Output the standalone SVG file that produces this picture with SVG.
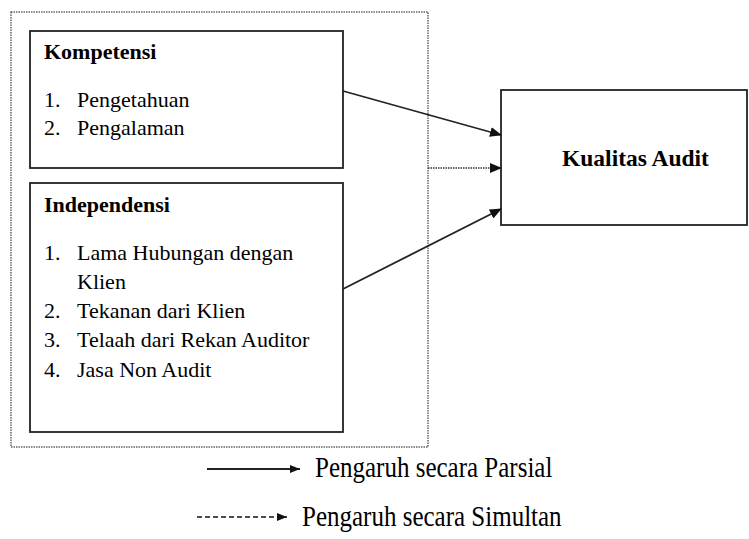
<svg xmlns="http://www.w3.org/2000/svg" width="749" height="539" viewBox="0 0 749 539">
<defs>
<marker id="ah" markerWidth="12" markerHeight="10" refX="11" refY="5" orient="auto" markerUnits="userSpaceOnUse">
<path d="M0,0 L12,5 L0,10 Z" fill="#111"/>
</marker>
<marker id="ahs" markerWidth="10" markerHeight="8" refX="10" refY="4" orient="auto" markerUnits="userSpaceOnUse">
<path d="M0,0 L10,4 L0,8 Z" fill="#111"/>
</marker>
</defs>
<style>
.box{fill:#fff;stroke:#222;stroke-width:1.8}
.outer{fill:none;stroke:#666;stroke-width:1.5;stroke-dasharray:1.5 1}
.solid{stroke:#222;stroke-width:1.8;fill:none}
.dot{stroke:#333;stroke-width:1.5;fill:none;stroke-dasharray:1.5 1}
.dash{stroke:#111;stroke-width:1.3;fill:none;stroke-dasharray:5 3}
</style>
<rect width="749" height="539" fill="#fff"/>
<g id="group-outer">
<rect class="outer" x="11" y="12" width="417" height="435"/>
</g>
<g id="node-kompetensi">
<rect class="box" x="30" y="31" width="313" height="137"/>
<text x="44" y="59" font-family="Liberation Serif, serif" font-size="22" font-weight="bold">Kompetensi</text>
<text x="44" y="107" font-family="Liberation Serif, serif" font-size="22">1.</text>
<text x="77" y="107" font-family="Liberation Serif, serif" font-size="22">Pengetahuan</text>
<text x="44" y="135" font-family="Liberation Serif, serif" font-size="22">2.</text>
<text x="77" y="135" font-family="Liberation Serif, serif" font-size="22">Pengalaman</text>
</g>
<g id="node-independensi">
<rect class="box" x="30" y="183" width="313" height="249"/>
<text x="44" y="212" font-family="Liberation Serif, serif" font-size="22" font-weight="bold">Independensi</text>
<text x="44" y="260" font-family="Liberation Serif, serif" font-size="22">1.</text>
<text x="77" y="260" font-family="Liberation Serif, serif" font-size="22">Lama Hubungan dengan</text>
<text x="77" y="289" font-family="Liberation Serif, serif" font-size="22">Klien</text>
<text x="44" y="318" font-family="Liberation Serif, serif" font-size="22">2.</text>
<text x="77" y="318" font-family="Liberation Serif, serif" font-size="22">Tekanan dari Klien</text>
<text x="44" y="347" font-family="Liberation Serif, serif" font-size="22">3.</text>
<text x="77" y="347" font-family="Liberation Serif, serif" font-size="22">Telaah dari Rekan Auditor</text>
<text x="44" y="377" font-family="Liberation Serif, serif" font-size="22">4.</text>
<text x="77" y="377" font-family="Liberation Serif, serif" font-size="22">Jasa Non Audit</text>
</g>
<g id="node-kualitas">
<rect class="box" x="501" y="90" width="246" height="135"/>
<text x="562" y="166" font-family="Liberation Serif, serif" font-weight="bold" font-size="23.5">Kualitas Audit</text>
</g>
<g id="connectors">
<line class="solid" x1="343" y1="91" x2="501" y2="135" marker-end="url(#ah)"/>
<line class="dot" x1="428" y1="168" x2="501" y2="168" marker-end="url(#ah)"/>
<line class="solid" x1="343" y1="289" x2="501" y2="209" marker-end="url(#ah)"/>
</g>
<g id="legend">
<line class="solid" x1="207" y1="469" x2="300" y2="469" stroke-width="1.5" marker-end="url(#ahs)"/>
<text transform="translate(315,477) scale(1,1.15)" font-family="Liberation Serif, serif" font-size="25">Pengaruh secara Parsial</text>
<line class="dash" x1="197" y1="517" x2="287" y2="517" marker-end="url(#ahs)"/>
<text transform="translate(302,526) scale(1,1.15)" font-family="Liberation Serif, serif" font-size="25">Pengaruh secara Simultan</text>
</g>
</svg>
